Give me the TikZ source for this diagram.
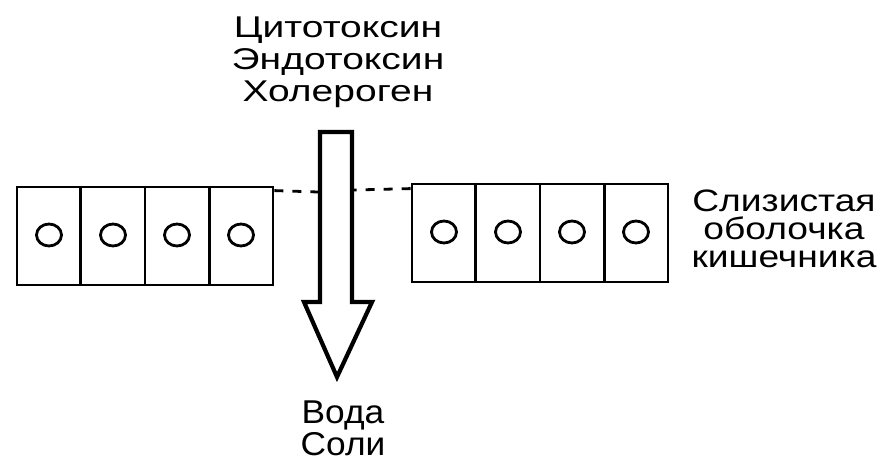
\documentclass[tikz,border=0pt]{standalone}
\usepackage{fontspec}
\usepackage{graphicx}
\setmainfont{Liberation Sans}
\usetikzlibrary{calc,shapes.geometric}
\newcommand\widetext[2]{\scalebox{#1}[1]{#2}}
\begin{document}
\begin{tikzpicture}[x=1pt,y=-1pt,
  wall/.style={draw, line width=2.8pt, inner sep=0pt, minimum width=256pt, minimum height=98pt},
  divider/.style={line width=2.6pt},
  nucleus/.style={ellipse, draw, line width=2.8pt, minimum width=25pt, minimum height=22pt, inner sep=0pt},
  gapline/.style={line width=2.8pt, dash pattern=on 9pt off 9pt},
  flow/.style={draw, line width=4.2pt, miter limit=10, fill=white, line join=miter},
  toplbl/.style={font=\fontsize{30}{34}\selectfont, inner sep=0pt, anchor=base},
  sidelbl/.style={font=\fontsize{31}{34}\selectfont, inner sep=0pt, anchor=base},
  botlbl/.style={font=\fontsize{33}{36}\selectfont, inner sep=0pt, anchor=base},
]
\useasboundingbox (0,0) rectangle (884,462);
\fill[white] (0,0) rectangle (884,462);

% left layer of cells
\node[wall] (L) at (145,236) {};
\foreach \f in {0.25,0.5,0.75}
  \draw[divider] ($(L.north west)!\f!(L.north east)$) -- ($(L.south west)!\f!(L.south east)$);
\foreach \i/\x in {1/49,2/113,3/177,4/241}
  \node[nucleus] (ln\i) at (\x,235) {};

% right layer of cells
\node[wall] (R) at (540,233) {};
\foreach \f in {0.25,0.5,0.75}
  \draw[divider] ($(R.north west)!\f!(R.north east)$) -- ($(R.south west)!\f!(R.south east)$);
\foreach \i/\x in {1/444,2/508,3/572,4/636}
  \node[nucleus] (rn\i) at (\x,232) {};

% arrow
\coordinate (s1) at (320,132);
\coordinate (s2) at (352,132);
\coordinate (s3) at (352,302);
\coordinate (h1) at (372,302);
\coordinate (tip) at (337,377);
\coordinate (h2) at (304,302);
\coordinate (s4) at (320,302);
\draw[flow] (s1) -- (s2) -- (s3) -- (h1) -- (tip) -- (h2) -- (s4) -- cycle;

% dashed gaps
\coordinate (gL) at (318,192);
\coordinate (gR) at (354,190);
\draw[gapline] ($(L.north east)+(0,5)$) -- (gL);
\draw[gapline] ($(R.north west)+(0,6)$) -- (gR);

% labels
\node[toplbl] (t1) at (338,38) {\widetext{1.3}{Цитотоксин}};
\node[toplbl] (t2) at (338,70) {\widetext{1.3}{Эндотоксин}};
\node[toplbl] (t3) at (338,102) {\widetext{1.3}{Холероген}};
\node[botlbl] (b1) at (343,423) {\widetext{1.07}{Вода}};
\node[botlbl] (b2) at (343,455) {\widetext{1.07}{Соли}};
\node[sidelbl] (r1) at (784,212) {\widetext{1.2}{Слизистая}};
\node[sidelbl] (r2) at (784,240) {\widetext{1.2}{оболочка}};
\node[sidelbl] (r3) at (784,268) {\widetext{1.2}{кишечника}};
\end{tikzpicture}
\end{document}
